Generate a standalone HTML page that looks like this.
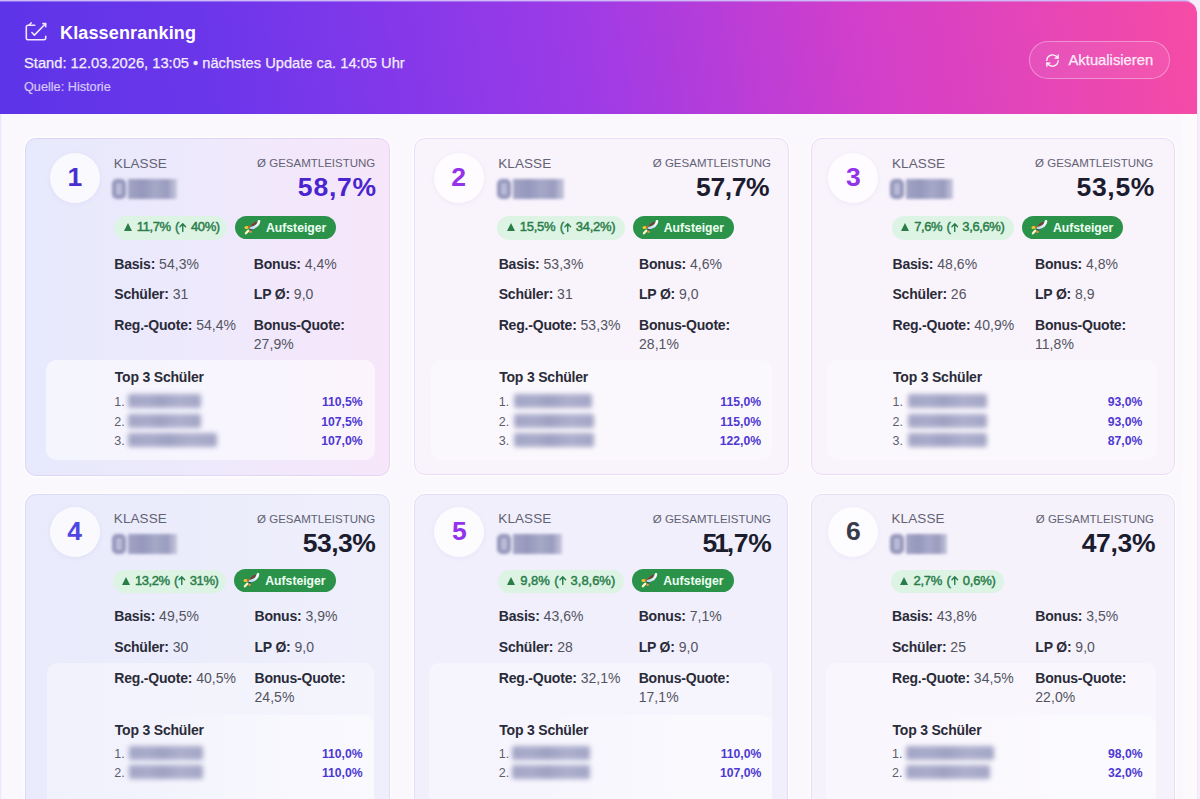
<!DOCTYPE html>
<html lang="de">
<head>
<meta charset="utf-8">
<title>Klassenranking</title>
<style>
*{box-sizing:border-box;margin:0;padding:0}
html,body{width:1200px;height:799px;overflow:hidden}
body{font-family:"Liberation Sans",sans-serif;background:#f5edfa;position:relative;color:#1f2030}
.page{position:absolute;left:0;top:0;width:1198px;height:799px;background:#fbf8fd;border-right:1px solid #f0e8f8;box-shadow:inset 1.5px 0 0 #ebe9fa;border-top-right-radius:13px;overflow:hidden}
.rb{position:absolute;left:1183px;top:114px;width:15px;height:685px;background:rgba(255,255,255,.28)}
.tp{position:absolute;left:0;top:0;width:1190px;height:3px;background:#cdbaf7}
.hdr{position:absolute;left:0;top:1px;width:1197px;height:113px;border-top-right-radius:12px;box-shadow:inset 0 1px 0 rgba(205,190,250,.42);
 background:linear-gradient(81deg,#5d34e8 0%,#6a36ea 17%,#8138ea 32%,#9e3be6 49%,#d23fca 72%,#f74ba5 100%)}
.hdr .ico{position:absolute;left:24px;top:21px;width:24px;height:22px}
.hdr h1{position:absolute;left:60px;top:21px;font-size:18px;font-weight:700;color:#fff;line-height:22px;white-space:nowrap;letter-spacing:.15px}
.hdr .sub{position:absolute;left:24px;top:53px;font-size:14.7px;color:#f3ecff;-webkit-text-stroke:.25px #f3ecff;line-height:18px;white-space:nowrap}
.hdr .src{position:absolute;left:24px;top:77.5px;font-size:12.7px;color:#d6c8fb;-webkit-text-stroke:.2px #d6c8fb;line-height:16px;white-space:nowrap}
.btn{position:absolute;left:1029px;top:40px;width:141px;height:38px;border-radius:19px;border:1.5px solid rgba(255,255,255,.36);background:rgba(255,255,255,.07)}
.btn svg{position:absolute;left:14.5px;top:11px;width:15px;height:15px}
.btn span{position:absolute;left:38.5px;top:9px;font-size:14.8px;line-height:18px;color:#ffeefa;white-space:nowrap;-webkit-text-stroke:.25px #ffeefa}

.card{position:absolute;border-radius:11px;overflow:hidden;border:0 solid #e4d9f7;box-shadow:0 0 0 1.5px rgba(255,255,255,.55)}
.card::after{content:"";position:absolute;inset:0;border-radius:11px;border:1px solid;border-color:inherit;pointer-events:none}
.card > *{position:absolute;white-space:nowrap}
.num{width:50px;height:50px;border-radius:50%;background:rgba(255,255,255,.75);box-shadow:0 1px 5px rgba(120,100,190,.08);
 text-align:center;font-size:26.5px;font-weight:700;line-height:48.6px}
.kl{font-size:13.5px;line-height:16px;color:#626273;letter-spacing:.1px}
.gl{font-size:11.5px;line-height:16px;color:#626273}
.pct{font-size:26.5px;font-weight:700;line-height:32px;letter-spacing:.3px}
.b1{border-radius:12px;background:#ddf4e5;color:#2a7d49;font-size:13px;font-weight:400;-webkit-text-stroke:.45px #2a7d49;text-align:left;padding-left:9.5px;word-spacing:1px}
.b1 i{display:inline-block;width:0;height:0;border-left:4px solid transparent;border-right:4px solid transparent;border-bottom:8px solid #2a7d49;margin-right:4.9px;position:relative;top:0}
.b1 .ar{width:7.5px;height:11px;margin:0 4px 0 .5px;position:relative;top:1.5px;-webkit-text-stroke:0}
.b2{border-radius:12px;background:#2b9349;color:#effff4;font-size:12.2px;font-weight:700;padding:0 10px 0 31px;letter-spacing:0}
.b2 .rk{position:absolute;left:9px;top:4px;width:17px;height:15px;filter:blur(.3px)}
.s{font-size:14px;line-height:18px;color:#53545f;letter-spacing:.05px}
.s b{color:#2a2b38;font-weight:700;letter-spacing:-.2px}
.top{border-radius:10px;background:rgba(255,255,255,.55)}
.r2 .top{background:rgba(255,255,255,.36)}
.lt .top{background:rgba(255,255,255,.42)}
.top2{border-radius:10px;background:linear-gradient(90deg,rgba(255,255,255,0) 30%,rgba(255,255,255,.4) 75%)}
.t3{font-size:14px;font-weight:700;line-height:18px;color:#2a2b38;letter-spacing:-.2px}
.li{font-size:12.5px;line-height:16px;color:#5d5e6c}
.pv{font-size:12.2px;font-weight:700;line-height:16px;color:#4e38d2}
.bl{height:14px;border-radius:2px;background:linear-gradient(90deg,#a3a5c6 0,#a9abca 25%,#9fa1c3 45%,#adafcd 70%,#a3a5c6 100%);filter:blur(2.4px)}
.cb{filter:blur(1.6px)}
.cb i{position:absolute;display:block}
.cb .z{left:1px;top:1px;width:14px;bottom:1px;border-radius:5px;border:4px solid #9496bb;background:#b9bbd6}
.cb .k{left:17px;top:1px;right:4px;bottom:1px;background:linear-gradient(90deg,#a2a4c4 0,#9597bc 30%,#a6a8c8 55%,#9a9cbf 80%,#c8c9de 100%)}
</style>
</head>
<body>
<svg width="0" height="0" style="position:absolute"><defs><linearGradient id="rg" x1="1" y1="0" x2="0" y2="1"><stop offset="0" stop-color="#ffffff"/><stop offset=".5" stop-color="#e3eefc"/><stop offset="1" stop-color="#bfd2f2"/></linearGradient></defs></svg>
<div class="page">
<div class="tp"></div><div class="rb"></div>
<div class="hdr">
 <svg class="ico" viewBox="0 0 24 22" fill="none" stroke="#efe6ff" stroke-width="1.600" stroke-linecap="round" stroke-linejoin="round"><path d="M10.700 3.200H4A1.700 1.700 0 0 0 2.300 4.900V16.100A1.700 1.700 0 0 0 4 17.800H20A1.700 1.700 0 0 0 21.700 16.100V14.300"/><path d="M7.900 10.500L10.400 13.100L21.300 2"/><path d="M18.900 1.600H21.700V4.700"/><path d="M5.300 3L7.100 0.900"/></svg>
 <h1>Klassenranking</h1>
 <div class="sub">Stand: 12.03.2026, 13:05 • nächstes Update ca. 14:05 Uhr</div>
 <div class="src">Quelle: Historie</div>
 <div class="btn"><svg viewBox="0 0 24 24" fill="none" stroke="#fff" stroke-width="2" stroke-linecap="round" stroke-linejoin="round"><path d="M3 12a9 9 0 0 1 15-6.700L21 8"/><path d="M21 3v5h-5"/><path d="M21 12a9 9 0 0 1-15 6.700L3 16"/><path d="M3 21v-5h5"/></svg><span>Aktualisieren</span></div>
</div>
<div class="card r1" style="left:25.2px;top:137.5px;width:365.3px;height:338.0px;background:linear-gradient(90deg,#e7e9fc 0%,#eee9fc 50%,#f7e6fa 100%);border-color:rgba(170,140,220,.20)">
 <div class="num" style="left:24.8px;top:15px;color:#4a2fcf">1</div>
 <div class="kl" style="left:88.6px;top:18.1px">KLASSE</div>
 <div class="cb" style="left:86.1px;top:40.5px;width:70px;height:22px"><i class="z"></i><i class="k"></i></div>
 <div class="gl" style="right:15.2px;top:17.9px">Ø GESAMTLEISTUNG</div>
 <div class="pct" style="right:13.5px;top:33.3px;color:#4a25cf;letter-spacing:0.8px">58,7%</div>
 <div class="b1" style="left:89.2px;top:78.8px;width:113px;height:23.4px;line-height:22.4px;letter-spacing:-0.38px"><i></i>11,7% (<svg class="ar" viewBox="0 0 8 10"><path d="M4 9.300V1.200M1 4.100l3-3 3 3" fill="none" stroke="currentColor" stroke-width="1.500" stroke-linecap="round" stroke-linejoin="round"/></svg>40%)</div>
 <div class="b2" style="left:209.8px;top:78.5px;height:23.4px;line-height:24.4px"><svg class="rk" viewBox="0 0 17 15"><path d="M11.900 2.700L8.200 5.500" stroke="#8b2f3c" stroke-width="2" stroke-linecap="round" fill="none"/><path d="M15 1.400C14.600 4.300 12 7.200 7 8.200" stroke="url(#rg)" stroke-width="2.600" stroke-linecap="round" fill="none"/><ellipse cx="2.600" cy="7.500" rx="2.100" ry="1.500" fill="#f5c730"/><circle cx="5" cy="6.900" r="1.100" fill="#e2582c"/><path d="M6.300 9.600l1.400 0.400" stroke="#2f3158" stroke-width="1.300" stroke-linecap="round"/><path d="M4.200 10.700L1.900 13.300" stroke="#fff5c8" stroke-width="2.300" stroke-linecap="round"/><circle cx="6.600" cy="11.800" r="1.300" fill="#e8954a"/></svg>Aufsteiger</div>
 <div class="s" style="left:89.1px;top:117.35px"><b>Basis:</b> 54,3%</div><div class="s" style="left:228.6px;top:117.35px"><b>Bonus:</b> 4,4%</div>
 <div class="s" style="left:89.1px;top:147.85px"><b>Schüler:</b> 31</div><div class="s" style="left:228.6px;top:147.85px"><b>LP Ø:</b> 9,0</div>
 <div class="s" style="left:89.1px;top:178.65px"><b>Reg.-Quote:</b> 54,4%</div><div class="s" style="left:228.6px;top:178.65px"><b>Bonus-Quote:</b></div><div class="s" style="left:228.6px;top:197.55px">27,9%</div>
 <div class="top" style="left:20.7px;width:329.1px;top:222.3px;height:100px"></div>
 <div class="t3" style="left:89.6px;top:230.85px">Top 3 Schüler</div>
 <div class="li" style="left:89.1px;top:256.7px">1.</div><div class="bl" style="left:103.3px;top:256.8px;width:72.5px"></div><div class="pv" style="right:27.9px;top:256.7px">110,5%</div>
 <div class="li" style="left:89.1px;top:276.3px">2.</div><div class="bl" style="left:103.3px;top:276.4px;width:72.5px"></div><div class="pv" style="right:27.9px;top:276.3px">107,5%</div>
 <div class="li" style="left:89.1px;top:295.0px">3.</div><div class="bl" style="left:103.3px;top:295.1px;width:88.5px"></div><div class="pv" style="right:27.9px;top:295.0px">107,0%</div>
</div>
<div class="card r1 lt" style="left:414px;top:137.5px;width:374.5px;height:337.5px;background:#f9f3fc;border-color:#eadcf6">
 <div class="num" style="left:19.7px;top:15px;color:#9333ea">2</div>
 <div class="kl" style="left:84.2px;top:18.1px">KLASSE</div>
 <div class="cb" style="left:81.7px;top:40.5px;width:72px;height:22px"><i class="z"></i><i class="k"></i></div>
 <div class="gl" style="right:17.5px;top:17.9px">Ø GESAMTLEISTUNG</div>
 <div class="pct" style="right:19.3px;top:33.3px;color:#1b1c2e;letter-spacing:-0.4px">57,7%</div>
 <div class="b1" style="left:83.4px;top:78.8px;width:127.5px;height:23.4px;line-height:22.4px;letter-spacing:-0.26px"><i></i>15,5% (<svg class="ar" viewBox="0 0 8 10"><path d="M4 9.300V1.200M1 4.100l3-3 3 3" fill="none" stroke="currentColor" stroke-width="1.500" stroke-linecap="round" stroke-linejoin="round"/></svg>34,2%)</div>
 <div class="b2" style="left:218.8px;top:78.5px;height:23.4px;line-height:24.4px"><svg class="rk" viewBox="0 0 17 15"><path d="M11.900 2.700L8.200 5.500" stroke="#8b2f3c" stroke-width="2" stroke-linecap="round" fill="none"/><path d="M15 1.400C14.600 4.300 12 7.200 7 8.200" stroke="url(#rg)" stroke-width="2.600" stroke-linecap="round" fill="none"/><ellipse cx="2.600" cy="7.500" rx="2.100" ry="1.500" fill="#f5c730"/><circle cx="5" cy="6.900" r="1.100" fill="#e2582c"/><path d="M6.300 9.600l1.400 0.400" stroke="#2f3158" stroke-width="1.300" stroke-linecap="round"/><path d="M4.200 10.700L1.900 13.300" stroke="#fff5c8" stroke-width="2.300" stroke-linecap="round"/><circle cx="6.600" cy="11.800" r="1.300" fill="#e8954a"/></svg>Aufsteiger</div>
 <div class="s" style="left:84.7px;top:117.35px"><b>Basis:</b> 53,3%</div><div class="s" style="left:225px;top:117.35px"><b>Bonus:</b> 4,6%</div>
 <div class="s" style="left:84.7px;top:147.85px"><b>Schüler:</b> 31</div><div class="s" style="left:225px;top:147.85px"><b>LP Ø:</b> 9,0</div>
 <div class="s" style="left:84.7px;top:178.65px"><b>Reg.-Quote:</b> 53,3%</div><div class="s" style="left:225px;top:178.65px"><b>Bonus-Quote:</b></div><div class="s" style="left:225px;top:197.55px">28,1%</div>
 <div class="top" style="left:17px;width:341.4px;top:222.3px;height:100px"></div>
 <div class="t3" style="left:85.2px;top:230.85px">Top 3 Schüler</div>
 <div class="li" style="left:84.7px;top:256.7px">1.</div><div class="bl" style="left:100px;top:256.8px;width:78px"></div><div class="pv" style="right:27.5px;top:256.7px">115,0%</div>
 <div class="li" style="left:84.7px;top:276.3px">2.</div><div class="bl" style="left:100px;top:276.4px;width:80px"></div><div class="pv" style="right:27.5px;top:276.3px">115,0%</div>
 <div class="li" style="left:84.7px;top:295.0px">3.</div><div class="bl" style="left:100px;top:295.1px;width:80px"></div><div class="pv" style="right:27.5px;top:295.0px">122,0%</div>
</div>
<div class="card r1 lt" style="left:811.3px;top:137.5px;width:364.0px;height:337.5px;background:#f9f3fc;border-color:#eadcf6">
 <div class="num" style="left:17.0px;top:15px;color:#9333ea">3</div>
 <div class="kl" style="left:80.7px;top:18.1px">KLASSE</div>
 <div class="cb" style="left:78.2px;top:40.5px;width:68px;height:22px"><i class="z"></i><i class="k"></i></div>
 <div class="gl" style="right:22.0px;top:17.9px">Ø GESAMTLEISTUNG</div>
 <div class="pct" style="right:20.2px;top:33.3px;color:#1b1c2e;letter-spacing:0.7px">53,5%</div>
 <div class="b1" style="left:80.5px;top:78.8px;width:122px;height:23.4px;line-height:22.4px;letter-spacing:-0.4px"><i></i>7,6% (<svg class="ar" viewBox="0 0 8 10"><path d="M4 9.300V1.200M1 4.100l3-3 3 3" fill="none" stroke="currentColor" stroke-width="1.500" stroke-linecap="round" stroke-linejoin="round"/></svg>3,6,6%)</div>
 <div class="b2" style="left:210.7px;top:78.5px;height:23.4px;line-height:24.4px"><svg class="rk" viewBox="0 0 17 15"><path d="M11.900 2.700L8.200 5.500" stroke="#8b2f3c" stroke-width="2" stroke-linecap="round" fill="none"/><path d="M15 1.400C14.600 4.300 12 7.200 7 8.200" stroke="url(#rg)" stroke-width="2.600" stroke-linecap="round" fill="none"/><ellipse cx="2.600" cy="7.500" rx="2.100" ry="1.500" fill="#f5c730"/><circle cx="5" cy="6.900" r="1.100" fill="#e2582c"/><path d="M6.300 9.600l1.400 0.400" stroke="#2f3158" stroke-width="1.300" stroke-linecap="round"/><path d="M4.200 10.700L1.900 13.300" stroke="#fff5c8" stroke-width="2.300" stroke-linecap="round"/><circle cx="6.600" cy="11.800" r="1.300" fill="#e8954a"/></svg>Aufsteiger</div>
 <div class="s" style="left:81.2px;top:117.35px"><b>Basis:</b> 48,6%</div><div class="s" style="left:223.7px;top:117.35px"><b>Bonus:</b> 4,8%</div>
 <div class="s" style="left:81.2px;top:147.85px"><b>Schüler:</b> 26</div><div class="s" style="left:223.7px;top:147.85px"><b>LP Ø:</b> 8,9</div>
 <div class="s" style="left:81.2px;top:178.65px"><b>Reg.-Quote:</b> 40,9%</div><div class="s" style="left:223.7px;top:178.65px"><b>Bonus-Quote:</b></div><div class="s" style="left:223.7px;top:197.55px">11,8%</div>
 <div class="top" style="left:15.7px;width:329.6px;top:222.3px;height:100px"></div>
 <div class="t3" style="left:81.7px;top:230.85px">Top 3 Schüler</div>
 <div class="li" style="left:81.2px;top:256.7px">1.</div><div class="bl" style="left:97.0px;top:256.8px;width:79px"></div><div class="pv" style="right:33.0px;top:256.7px">93,0%</div>
 <div class="li" style="left:81.2px;top:276.3px">2.</div><div class="bl" style="left:97.0px;top:276.4px;width:79px"></div><div class="pv" style="right:33.0px;top:276.3px">93,0%</div>
 <div class="li" style="left:81.2px;top:295.0px">3.</div><div class="bl" style="left:97.0px;top:295.1px;width:79px"></div><div class="pv" style="right:33.0px;top:295.0px">87,0%</div>
</div>
<div class="card r2" style="left:25.3px;top:494.3px;width:365.2px;height:335.7px;background:linear-gradient(90deg,#e9eafb 0%,#efeffc 100%);border-color:rgba(150,150,225,.17)">
 <div class="num" style="left:24.4px;top:12.4px;color:#4f46e5">4</div>
 <div class="kl" style="left:88.5px;top:16.8px">KLASSE</div>
 <div class="cb" style="left:86.0px;top:38.5px;width:70px;height:22px"><i class="z"></i><i class="k"></i></div>
 <div class="gl" style="right:15.2px;top:16.4px">Ø GESAMTLEISTUNG</div>
 <div class="pct" style="right:15.1px;top:33.0px;color:#1b1c2e;letter-spacing:-0.5px">53,3%</div>
 <div class="b1" style="left:87.3px;top:75.3px;width:113.5px;height:23px;line-height:22px;letter-spacing:-0.43px"><i></i>13,2% (<svg class="ar" viewBox="0 0 8 10"><path d="M4 9.300V1.200M1 4.100l3-3 3 3" fill="none" stroke="currentColor" stroke-width="1.500" stroke-linecap="round" stroke-linejoin="round"/></svg>31%)</div>
 <div class="b2" style="left:209.0px;top:75.0px;height:23px;line-height:24px"><svg class="rk" viewBox="0 0 17 15"><path d="M11.900 2.700L8.200 5.500" stroke="#8b2f3c" stroke-width="2" stroke-linecap="round" fill="none"/><path d="M15 1.400C14.600 4.300 12 7.200 7 8.200" stroke="url(#rg)" stroke-width="2.600" stroke-linecap="round" fill="none"/><ellipse cx="2.600" cy="7.500" rx="2.100" ry="1.500" fill="#f5c730"/><circle cx="5" cy="6.900" r="1.100" fill="#e2582c"/><path d="M6.300 9.600l1.400 0.400" stroke="#2f3158" stroke-width="1.300" stroke-linecap="round"/><path d="M4.200 10.700L1.900 13.300" stroke="#fff5c8" stroke-width="2.300" stroke-linecap="round"/><circle cx="6.600" cy="11.800" r="1.300" fill="#e8954a"/></svg>Aufsteiger</div>
 <div class="s" style="left:89.0px;top:113.15px"><b>Basis:</b> 49,5%</div><div class="s" style="left:229.2px;top:113.15px"><b>Bonus:</b> 3,9%</div>
 <div class="s" style="left:89.0px;top:143.55px"><b>Schüler:</b> 30</div><div class="s" style="left:229.2px;top:143.55px"><b>LP Ø:</b> 9,0</div>
 <div class="top" style="left:21.7px;width:327px;top:169px;height:400px"></div>
 <div class="top2" style="left:21.7px;width:327px;top:221px;height:300px"></div>
 <div class="s" style="left:89.0px;top:174.85px"><b>Reg.-Quote:</b> 40,5%</div><div class="s" style="left:229.2px;top:174.85px"><b>Bonus-Quote:</b></div><div class="s" style="left:229.2px;top:193.55px">24,5%</div>
 <div class="t3" style="left:89.5px;top:226.75px">Top 3 Schüler</div>
 <div class="li" style="left:89.0px;top:251.9px">1.</div><div class="bl" style="left:103.9px;top:252.0px;width:74px"></div><div class="pv" style="right:27.9px;top:251.9px">110,0%</div>
 <div class="li" style="left:89.0px;top:271.1px">2.</div><div class="bl" style="left:103.9px;top:271.2px;width:74px"></div><div class="pv" style="right:27.9px;top:271.1px">110,0%</div>
</div>
<div class="card r2" style="left:414px;top:494.3px;width:373.5px;height:335.7px;background:#f1effc;border-color:#e3def6">
 <div class="num" style="left:20.3px;top:12.4px;color:#9333ea">5</div>
 <div class="kl" style="left:84.3px;top:16.8px">KLASSE</div>
 <div class="cb" style="left:81.8px;top:38.5px;width:70px;height:22px"><i class="z"></i><i class="k"></i></div>
 <div class="gl" style="right:16.5px;top:16.4px">Ø GESAMTLEISTUNG</div>
 <div class="pct" style="right:16.1px;top:33.0px;color:#1b1c2e;letter-spacing:-0.3px">5<span style="margin:0 -2px 0 -2.8px">1</span>,7%</div>
 <div class="b1" style="left:83.8px;top:75.3px;width:126.5px;height:23px;line-height:22px;letter-spacing:-0.03px"><i></i>9,8% (<svg class="ar" viewBox="0 0 8 10"><path d="M4 9.300V1.200M1 4.100l3-3 3 3" fill="none" stroke="currentColor" stroke-width="1.500" stroke-linecap="round" stroke-linejoin="round"/></svg>3,8,6%)</div>
 <div class="b2" style="left:218.3px;top:75.0px;height:23px;line-height:24px"><svg class="rk" viewBox="0 0 17 15"><path d="M11.900 2.700L8.200 5.500" stroke="#8b2f3c" stroke-width="2" stroke-linecap="round" fill="none"/><path d="M15 1.400C14.600 4.300 12 7.200 7 8.200" stroke="url(#rg)" stroke-width="2.600" stroke-linecap="round" fill="none"/><ellipse cx="2.600" cy="7.500" rx="2.100" ry="1.500" fill="#f5c730"/><circle cx="5" cy="6.900" r="1.100" fill="#e2582c"/><path d="M6.300 9.600l1.400 0.400" stroke="#2f3158" stroke-width="1.300" stroke-linecap="round"/><path d="M4.200 10.700L1.900 13.300" stroke="#fff5c8" stroke-width="2.300" stroke-linecap="round"/><circle cx="6.600" cy="11.800" r="1.300" fill="#e8954a"/></svg>Aufsteiger</div>
 <div class="s" style="left:84.8px;top:113.15px"><b>Basis:</b> 43,6%</div><div class="s" style="left:224.7px;top:113.15px"><b>Bonus:</b> 7,1%</div>
 <div class="s" style="left:84.8px;top:143.55px"><b>Schüler:</b> 28</div><div class="s" style="left:224.7px;top:143.55px"><b>LP Ø:</b> 9,0</div>
 <div class="top" style="left:14.7px;width:343.3px;top:169px;height:400px"></div>
 <div class="top2" style="left:14.7px;width:343.3px;top:221px;height:300px"></div>
 <div class="s" style="left:84.8px;top:174.85px"><b>Reg.-Quote:</b> 32,1%</div><div class="s" style="left:224.7px;top:174.85px"><b>Bonus-Quote:</b></div><div class="s" style="left:224.7px;top:193.55px">17,1%</div>
 <div class="t3" style="left:85.3px;top:226.75px">Top 3 Schüler</div>
 <div class="li" style="left:84.8px;top:251.9px">1.</div><div class="bl" style="left:97.8px;top:252.0px;width:78px"></div><div class="pv" style="right:26.2px;top:251.9px">110,0%</div>
 <div class="li" style="left:84.8px;top:271.1px">2.</div><div class="bl" style="left:97.8px;top:271.2px;width:78px"></div><div class="pv" style="right:26.2px;top:271.1px">107,0%</div>
</div>
<div class="card r2" style="left:811.2px;top:494.3px;width:363.5px;height:335.7px;background:#f6f2fc;border-color:#e8dff6">
 <div class="num" style="left:17.1px;top:12.4px;color:#3a3b4a">6</div>
 <div class="kl" style="left:80.3px;top:16.8px">KLASSE</div>
 <div class="cb" style="left:77.8px;top:38.5px;width:62px;height:22px"><i class="z"></i><i class="k"></i></div>
 <div class="gl" style="right:20.7px;top:16.4px">Ø GESAMTLEISTUNG</div>
 <div class="pct" style="right:19.4px;top:33.0px;color:#1b1c2e;letter-spacing:-0.3px">47,3%</div>
 <div class="b1" style="left:79.8px;top:75.3px;width:113.5px;height:23px;line-height:22px;letter-spacing:-0.2px"><i></i>2,7% (<svg class="ar" viewBox="0 0 8 10"><path d="M4 9.300V1.200M1 4.100l3-3 3 3" fill="none" stroke="currentColor" stroke-width="1.500" stroke-linecap="round" stroke-linejoin="round"/></svg>0,6%)</div>
 <div class="s" style="left:80.8px;top:113.15px"><b>Basis:</b> 43,8%</div><div class="s" style="left:224.1px;top:113.15px"><b>Bonus:</b> 3,5%</div>
 <div class="s" style="left:80.8px;top:143.55px"><b>Schüler:</b> 25</div><div class="s" style="left:224.1px;top:143.55px"><b>LP Ø:</b> 9,0</div>
 <div class="top" style="left:14.8px;width:330.5px;top:169px;height:400px"></div>
 <div class="top2" style="left:14.8px;width:330.5px;top:221px;height:300px"></div>
 <div class="s" style="left:80.8px;top:174.85px"><b>Reg.-Quote:</b> 34,5%</div><div class="s" style="left:224.1px;top:174.85px"><b>Bonus-Quote:</b></div><div class="s" style="left:224.1px;top:193.55px">22,0%</div>
 <div class="t3" style="left:81.3px;top:226.75px">Top 3 Schüler</div>
 <div class="li" style="left:80.8px;top:251.9px">1.</div><div class="bl" style="left:94.8px;top:252.0px;width:88px"></div><div class="pv" style="right:32.2px;top:251.9px">98,0%</div>
 <div class="li" style="left:80.8px;top:271.1px">2.</div><div class="bl" style="left:94.8px;top:271.2px;width:84px"></div><div class="pv" style="right:32.2px;top:271.1px">32,0%</div>
</div>
</div>
</body>
</html>
